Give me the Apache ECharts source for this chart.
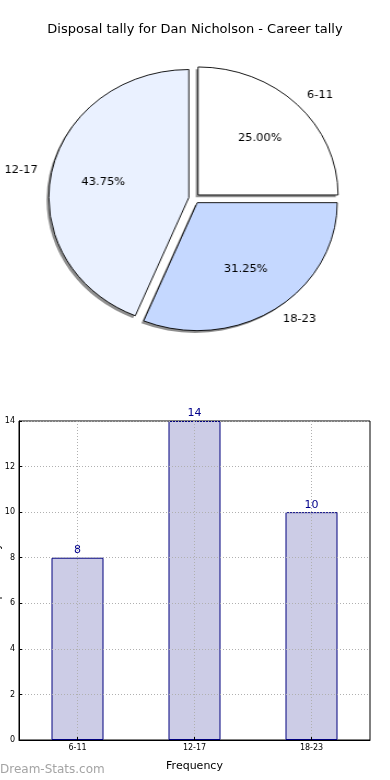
<!DOCTYPE html>
<html><head><meta charset="utf-8">
<script src="https://cdn.jsdelivr.net/npm/echarts@6/dist/echarts.min.js"></script>
<style>
html,body{margin:0;padding:0;background:#fff;}
#main{position:absolute;left:0;top:0;width:390px;height:780px;}
#pie{position:absolute;left:0;top:0;width:390px;height:400px;transform:scaleX(1.09375);transform-origin:194.2px 0;}
</style></head>
<body><div id="main"></div><div id="pie"></div>
<script>
const titleText = 'Disposal tally for Dan Nicholson - Career tally';
const categories = ['6-11', '12-17', '18-23'];
const tallies = [8, 14, 10];
const pieColors = ['#FFFFFF', '#EAF1FF', '#C5D8FF'];
const yMin = 0, yMax = 14, yStep = 2;
const xName = 'Frequency';
const yName = 'Disposal tally';
const watermark = 'Dream-Stats.com';

const FONT = 'DejaVu Sans';
const R = 128;
const CX = 194.2, CY = 198.5;

const main = echarts.init(document.getElementById('main'), null, {renderer: 'canvas'});
const pie = echarts.init(document.getElementById('pie'), null, {renderer: 'canvas'});

// grid-line helper axis: 2*n+1 slots so odd slots are category centres
const helperCats = [];
for (let i = 0; i < categories.length * 2 + 1; i++) helperCats.push(i % 2 ? categories[(i - 1) / 2] : '');

main.setOption({
  backgroundColor: '#fff',
  animation: false,
  title: {
    text: titleText, left: 'center', top: 23, padding: 0,
    textStyle: {fontFamily: FONT, fontSize: 13, fontWeight: 'normal', color: '#000'}
  },
  grid: {left: 19, right: 20, top: 421, bottom: 40, show: true, borderColor: '#000', borderWidth: 1, backgroundColor: 'transparent'},
  xAxis: [{
    type: 'category', data: categories, position: 'bottom', z: 6,
    axisLine: {show: true, lineStyle: {color: '#000', width: 1}},
    axisTick: {show: true, alignWithLabel: true, inside: true, length: 3, lineStyle: {color: '#000'}},
    axisLabel: {fontFamily: FONT, fontSize: 8, color: '#000', margin: 4},
    splitLine: {show: false},
    name: xName, nameLocation: 'middle', nameGap: 21,
    nameTextStyle: {fontFamily: FONT, fontSize: 11, color: '#000'}
  }, {
    type: 'category', data: helperCats, boundaryGap: false, position: 'top', z: 5,
    axisLine: {show: false}, axisTick: {show: false}, axisLabel: {show: false},
    splitLine: {show: true, interval: function (i) { return i % 2 === 1; },
      lineStyle: {color: '#b0b0b0', width: 1, type: [1, 2]}}
  }],
  yAxis: {
    type: 'value', min: yMin, max: yMax, interval: yStep, z: 5,
    axisLine: {show: true, lineStyle: {color: '#000', width: 1}},
    axisTick: {show: true, inside: true, length: 3, lineStyle: {color: '#000'}},
    axisLabel: {fontFamily: FONT, fontSize: 8, color: '#000', margin: 4},
    splitLine: {show: true, lineStyle: {color: '#b0b0b0', width: 1, type: [1, 2]}}
  },
  graphic: [
    {type: 'text', x: -3, y: 580, rotation: Math.PI / 2,
     style: {text: yName, fontFamily: FONT, fontSize: 11, fill: '#000', align: 'center', verticalAlign: 'middle'}},
    {type: 'text', left: 0, top: 764,
     style: {text: watermark, fontFamily: FONT, fontSize: 12, fontWeight: 'normal', fill: '#a4a4a4'}}
  ],
  series: [{
    type: 'bar', data: tallies, xAxisIndex: 0, barWidth: 52, z: 2,
    itemStyle: {color: '#CCCCE6', borderColor: '#00007F', borderWidth: 1},
    label: {show: true, position: 'top', distance: 2, fontFamily: FONT, fontSize: 11, color: '#00008B'},
    emphasis: {disabled: true}
  }]
});

const pieData = categories.map((c, i) => ({
  name: c, value: tallies[i], selected: true,
  itemStyle: {color: pieColors[i]}
}));
const plainData = categories.map((c, i) => ({name: c, value: tallies[i], selected: true}));

const common = {
  type: 'pie', startAngle: 0, clockwise: false,
  selectedMode: 'multiple', selectedOffset: 5,
  avoidLabelOverlap: false, emphasis: {disabled: true}
};

pie.setOption({
  animation: false,
  backgroundColor: 'transparent',
  series: [Object.assign({}, common, {
    // drop shadow
    center: [CX - 2.1, CY + 2.4], radius: [0, R], silent: true, z: 1,
    data: plainData,
    itemStyle: {color: '#8f8f8f', borderWidth: 0},
    select: {itemStyle: {color: '#8f8f8f', borderWidth: 0}},
    label: {show: false}, labelLine: {show: false}
  }), Object.assign({}, common, {
    center: [CX, CY], radius: [0, R], z: 2,
    data: pieData,
    itemStyle: {borderColor: '#000', borderWidth: 0.9},
    select: {itemStyle: {borderColor: '#000', borderWidth: 0.9}},
    label: {show: true, position: 'outside', formatter: '{b}', alignTo: 'none',
      distanceToLabelLine: 0, fontFamily: FONT, fontSize: 10.5, color: '#000'},
    labelLine: {show: false, length: R * 0.1, length2: 0}
  }), Object.assign({}, common, {
    center: [CX, CY], radius: [0, R * 1.2], silent: true, z: 5,
    data: plainData,
    itemStyle: {color: 'rgba(0,0,0,0)', borderWidth: 0},
    select: {itemStyle: {color: 'rgba(0,0,0,0)', borderWidth: 0}},
    label: {show: true, position: 'inside', fontFamily: FONT, fontSize: 10.5, color: '#000',
      formatter: function (p) { return p.percent.toFixed(2) + '%'; }},
    labelLine: {show: false}
  })]
});
</script>
</body></html>
